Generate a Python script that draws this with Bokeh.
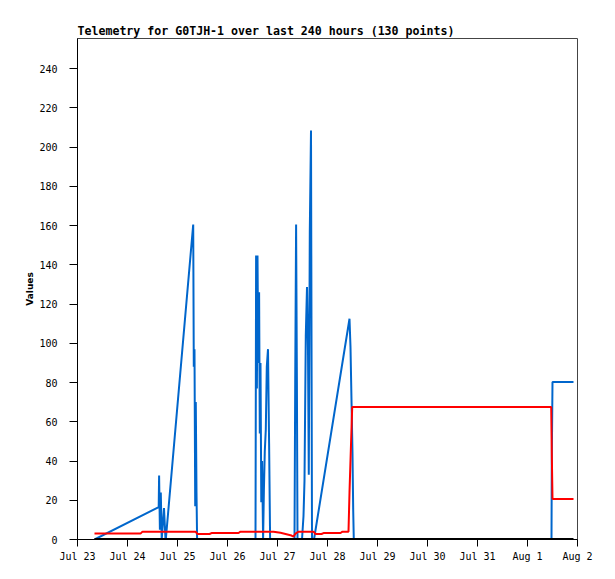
from bokeh.plotting import figure
from bokeh.models import Range1d, FixedTicker
from bokeh.embed import file_html
from bokeh.resources import INLINE

# x values: hours since Jul 23 00:00
blue_hours = [8.16, 38.98, 39.17, 39.55, 39.98, 40.42, 41.52, 42.24, 42.38, 55.54,
              55.82, 56.16, 56.50, 56.78, 57.12, 57.41,
              85.44, 85.73, 86.11, 86.40, 86.78, 87.17, 87.50, 87.84, 88.22, 88.61,
              89.09, 89.47, 89.90, 90.38, 90.86, 91.44, 91.97, 92.45,
              104.16, 104.50, 104.93, 105.31, 105.60,
              107.76, 108.48, 108.96, 109.58, 110.16, 110.64, 111.02, 111.50, 112.08, 112.56,
              113.52, 130.56, 131.04, 131.52, 132.00, 132.34, 132.62,
              227.52, 227.66, 228.00, 238.08]
blue_values = [0, 16.5, 32.6, 5, 24, 0, 16, 0, 0, 160.5,
               88, 97, 17, 70, 24, 0,
               0, 144.7, 77, 144.7, 90, 126, 54, 90, 19, 40,
               0, 25, 45, 56, 88, 97, 49, 0,
               0, 80, 160.5, 80, 0,
               0, 12, 30, 104, 128.6, 96, 33, 156.6, 208.4, 0,
               0, 112.5, 98, 70.8, 43.8, 14.8, 0,
               0, 40.6, 80.2, 80.2]

red_hours = [8.16, 30.24, 31.20, 56.64, 57.60, 63.36, 64.32, 77.28, 78.24, 94.08,
             97.44, 100.32, 102.72, 103.68, 104.64, 106.08, 113.28, 114.24, 117.12, 118.08,
             126.24, 127.20, 130.08, 130.56, 131.18, 131.86, 227.38, 227.66, 228.00, 238.08]
red_values = [3.0, 3.0, 4.0, 4.0, 2.8, 2.8, 3.3, 3.3, 4.0, 4.0,
              3.4, 2.7, 2.0, 1.5, 3.0, 4.0, 4.0, 2.8, 2.8, 3.3,
              3.3, 4.0, 4.0, 24, 45, 67.5, 67.5, 44, 20.7, 20.7]

black_hours = [8.16, 238.08]
black_values = [0, 0]

x_tick_hours = [0, 24, 48, 72, 96, 120, 144, 168, 192, 216, 240]
x_tick_labels = ["Jul 23", "Jul 24", "Jul 25", "Jul 26", "Jul 27", "Jul 28",
                 "Jul 29", "Jul 30", "Jul 31", "Aug 1", "Aug 2"]
y_ticks = [0, 20, 40, 60, 80, 100, 120, 140, 160, 180, 200, 220, 240]

p = figure(width=614, height=578, output_backend="svg", toolbar_location=None,
           x_range=Range1d(0, 240), y_range=Range1d(0, 255.3),
           min_border_left=77, min_border_right=37, min_border_top=38,
           min_border_bottom=39, background_fill_color="white",
           border_fill_color="white")

p.title.text = "Telemetry for G0TJH-1 over last 240 hours (130 points)"
p.title.text_font = "DejaVu Sans Mono"
p.title.text_font_style = "bold"
p.title.text_font_size = "11.6px"
p.title.text_color = "black"
p.title.align = "left"
p.title.standoff = 2
p.title.offset = 0

p.xgrid.grid_line_color = None
p.ygrid.grid_line_color = None
p.outline_line_color = "#444444"
p.outline_line_width = 1

for ax in (p.xaxis, p.yaxis):
    ax.axis_line_color = "black"
    ax.axis_line_width = 1
    ax.major_tick_line_color = "black"
    ax.major_tick_in = 0
    ax.minor_tick_line_color = None
    ax.major_label_text_font = "DejaVu Sans Mono"
    ax.major_label_text_font_size = "10px"
    ax.major_label_text_color = "black"

p.xaxis.ticker = FixedTicker(ticks=x_tick_hours)
p.xaxis.major_label_overrides = {h: lab for h, lab in zip(x_tick_hours, x_tick_labels)}
p.xaxis.major_tick_out = 7
p.xaxis.major_label_standoff = 4

p.yaxis.ticker = FixedTicker(ticks=y_ticks)
p.yaxis.major_tick_out = 8
p.yaxis.major_label_standoff = 12
p.yaxis.axis_label = "Values"
p.yaxis.axis_label_text_font = "DejaVu Sans"
p.yaxis.axis_label_text_font_style = "bold"
p.yaxis.axis_label_text_font_size = "9px"
p.yaxis.axis_label_text_color = "black"
p.yaxis.axis_label_standoff = 1

p.line(blue_hours, blue_values, line_color="#0066cc", line_width=2)
p.line(red_hours, red_values, line_color="#ff0000", line_width=2)
p.line(black_hours, black_values, line_color="black", line_width=3)

open("out.html", "w").write(file_html(p, INLINE))
